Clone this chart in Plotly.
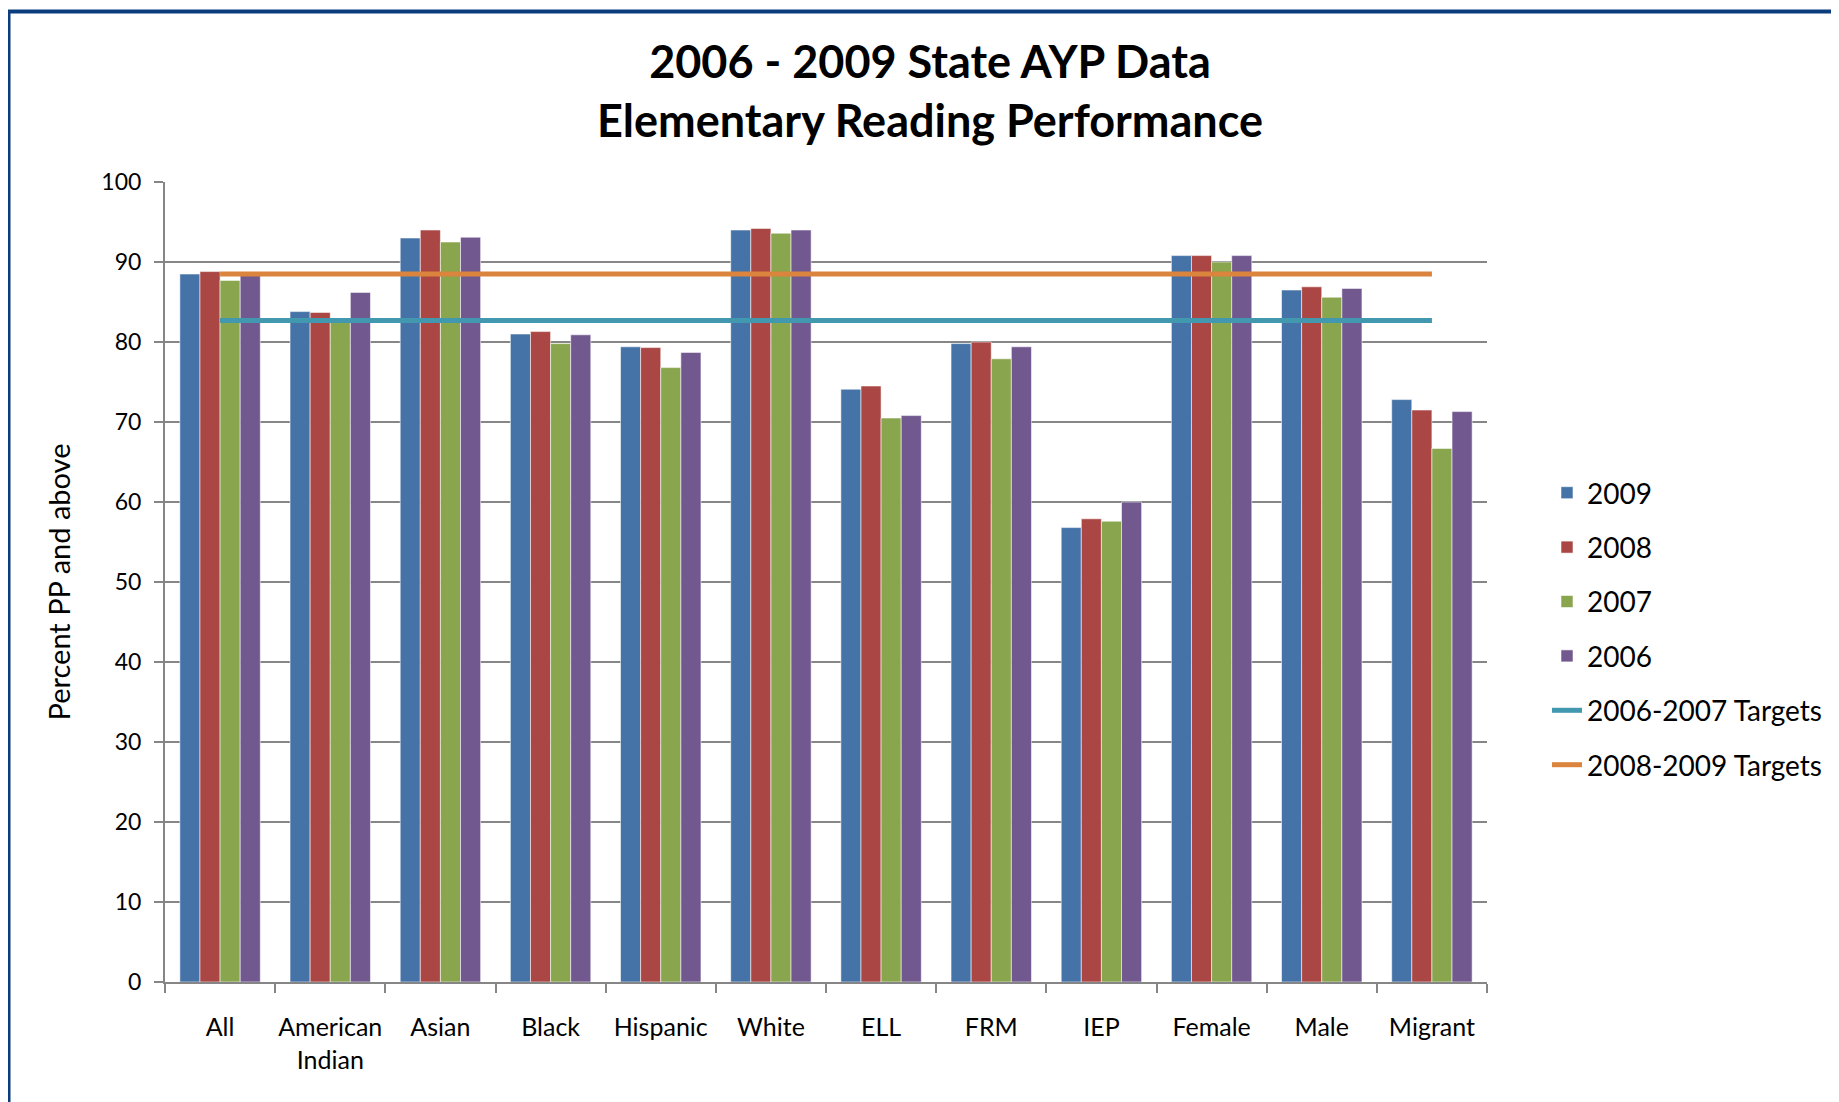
import plotly.graph_objects as go

categories = ["All", "American<br>Indian", "Asian", "Black", "Hispanic", "White",
              "ELL", "FRM", "IEP", "Female", "Male", "Migrant"]
v2009 = [88.5, 83.8, 93.0, 81.0, 79.4, 94.0, 74.1, 79.8, 56.8, 90.8, 86.5, 72.8]
v2008 = [88.8, 83.7, 94.0, 81.3, 79.3, 94.2, 74.5, 80.0, 57.9, 90.8, 86.9, 71.5]
v2007 = [87.7, 82.9, 92.5, 79.8, 76.8, 93.6, 70.5, 77.9, 57.6, 90.0, 85.6, 66.7]
v2006 = [88.5, 86.2, 93.1, 80.9, 78.7, 94.0, 70.8, 79.4, 60.0, 90.8, 86.7, 71.3]
target_0607 = [82.7] * len(categories)
target_0809 = [88.5] * len(categories)

bar_series = [("2009", v2009, "#4572A7"), ("2008", v2008, "#AA4643"),
              ("2007", v2007, "#89A54E"), ("2006", v2006, "#71588F")]

FONT = "Lato, Calibri, 'Open Sans', sans-serif"

fig = go.Figure()
for i, (name, vals, col) in enumerate(bar_series):
    fig.add_trace(go.Bar(
        x=categories, y=vals, name=name, legendgroup=f"g{i}",
        marker=dict(color=col, line=dict(color="rgba(255,255,255,0.55)", width=1)),
    ))
fig.add_trace(go.Scatter(x=categories, y=target_0607, name="2006-2007 Targets",
                         legendgroup="g4", mode="lines",
                         line=dict(color="#4198AF", width=5)))
fig.add_trace(go.Scatter(x=categories, y=target_0809, name="2008-2009 Targets",
                         legendgroup="g5", mode="lines",
                         line=dict(color="#DB843D", width=5)))

# page has an 8px body margin, so the figure is drawn 8px smaller and offset
W, H = 1831, 1094
L, T = 157, 174
PR, PB = 1479, 974
R, B = W - PR, H - PB
pw, ph = PR - L, PB - T

fig.update_layout(
    width=W, height=H,
    margin=dict(l=L, r=R, t=T, b=B, pad=0, autoexpand=False),
    paper_bgcolor="white", plot_bgcolor="white",
    font=dict(family=FONT, color="black"),
    barmode="group", bargap=0.27, bargroupgap=0,
    title=dict(text="<b>2006 - 2009 State AYP Data<br>Elementary Reading Performance</b>",
               x=922 / W, xanchor="center", xref="container",
               y=1 - 70 / H, yanchor="middle", yref="container",
               font=dict(size=45, family=FONT)),
    legend=dict(x=(1539 - L) / pw, xanchor="left", y=(PB - 621) / ph, yanchor="middle",
                font=dict(size=28, family=FONT), traceorder="grouped",
                tracegroupgap=15, bgcolor="rgba(0,0,0,0)"),
    showlegend=True,
)
fig.update_xaxes(
    type="category", showline=True, linecolor="#868686", linewidth=2,
    ticks="outside", tickson="boundaries", ticklen=9, tickcolor="#868686", tickwidth=2,
    tickfont=dict(size=25, family=FONT), ticklabelstandoff=22, tickangle=0,
    showgrid=False, zeroline=False, automargin=False,
)
fig.update_yaxes(
    range=[0, 100], dtick=10, tick0=0, showline=True, linecolor="#868686", linewidth=2,
    ticks="outside", ticklen=9, tickcolor="#868686", tickwidth=2,
    showgrid=True, gridcolor="#868686", gridwidth=1.5, zeroline=False,
    tickfont=dict(size=23, family=FONT), ticklabelstandoff=8, automargin=False,
    title=dict(text="Percent PP and above", font=dict(size=29, family=FONT), standoff=22),
)
# outer frame (top and left edges visible, as in the reference)
fig.add_shape(type="rect", xref="paper", yref="paper",
              x0=(0.5 - L) / pw, x1=(W + 50 - L) / pw,
              y0=-(B + 50) / ph, y1=(PB - 3.5) / ph,
              line=dict(color="#0B3C7D", width=4), fillcolor="rgba(0,0,0,0)", layer="above")

fig.write_html("out.html")
